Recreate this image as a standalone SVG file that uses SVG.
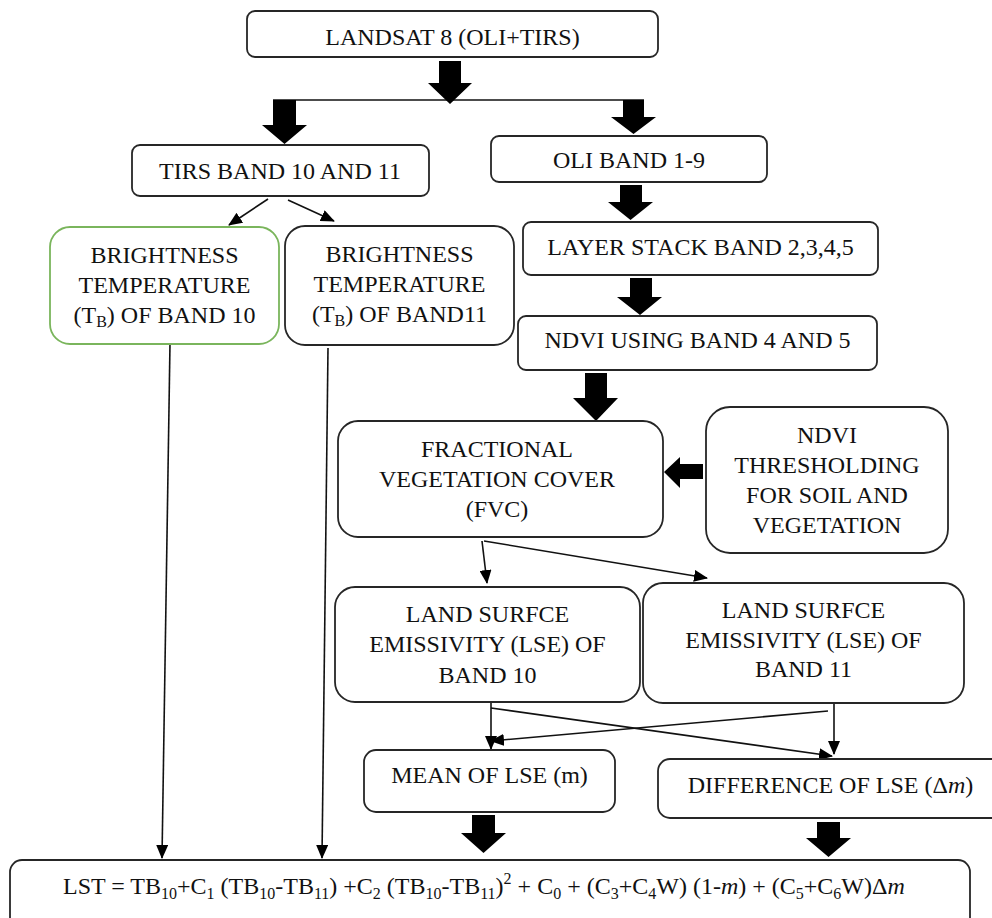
<svg xmlns="http://www.w3.org/2000/svg" width="992" height="918" viewBox="0 0 992 918">
<style>
.bx{fill:#fff;stroke:#262626;stroke-width:1.8}
.gb{fill:#fff;stroke:#7ab55c;stroke-width:1.8}
text{font-family:'Liberation Serif','DejaVu Serif',serif;fill:#111}
.t{font-size:24px;text-anchor:middle}
.f{font-size:24px}
.sb{font-size:16px}
.ln{stroke:#111;stroke-width:1.6;fill:none}
.blk{fill:#000}
</style>
<defs>
<marker id="ah" markerUnits="userSpaceOnUse" markerWidth="14" markerHeight="12" refX="13" refY="6" orient="auto">
<path d="M0,0 L14,6 L0,12 Z" fill="#000"/>
</marker>
</defs>
<rect width="992" height="918" fill="#fff"/>

<g id="connectors">
<line class="ln" x1="273" y1="100" x2="644" y2="100"/>
<polygon class="blk" points="439,61 461,61 461,83 472,83 450,104 428,83 439,83"/>
<polygon class="blk" points="273,100 296,100 296,125 307,125 284.5,144 262,125 273,125"/>
<polygon class="blk" points="623,100 644,100 644,117 656,117 633.5,134 611,117 623,117"/>
<polygon class="blk" points="620,185 642,185 642,202 653,202 630.5,220 608,202 620,202"/>
<polygon class="blk" points="630,278 652,278 652,297 662,297 640,315 617,297 630,297"/>
<polygon class="blk" points="585,373 607,373 607,398 618,398 596,421 573,398 585,398"/>
<polygon class="blk" points="703,464 703,479 680,479 680,488 664,472 680,457 680,464"/>
<polygon class="blk" points="472,815 495,815 495,833 506,833 483.5,853 461,833 472,833"/>
<polygon class="blk" points="817,822 840,822 840,838 851,838 828.5,857 806,838 817,838"/>
<line class="ln" x1="268" y1="199" x2="229" y2="225" marker-end="url(#ah)"/>
<line class="ln" x1="288" y1="200" x2="334" y2="221" marker-end="url(#ah)"/>
<line class="ln" x1="170" y1="343" x2="162" y2="858" marker-end="url(#ah)"/>
<line class="ln" x1="328" y1="348" x2="322" y2="858" marker-end="url(#ah)"/>
<line class="ln" x1="482" y1="541" x2="487" y2="583" marker-end="url(#ah)"/>
<line class="ln" x1="484" y1="541" x2="707" y2="578" marker-end="url(#ah)"/>
<line class="ln" x1="491" y1="703" x2="491" y2="749" marker-end="url(#ah)"/>
<line class="ln" x1="491" y1="708" x2="832" y2="756" marker-end="url(#ah)"/>
<line class="ln" x1="834" y1="703" x2="834" y2="754" marker-end="url(#ah)"/>
<line class="ln" x1="828" y1="711" x2="491" y2="741" marker-end="url(#ah)"/>
</g>

<g id="landsat">
<rect class="bx" x="247" y="11" width="411" height="46" rx="8"/>
<text class="t" x="452.5" y="45">LANDSAT 8 (OLI+TIRS)</text>
</g>
<g id="tirs">
<rect class="bx" x="132" y="145" width="297" height="51" rx="8"/>
<text class="t" x="280" y="179">TIRS BAND 10 AND 11</text>
</g>
<g id="oli">
<rect class="bx" x="491" y="136" width="276" height="46" rx="8"/>
<text class="t" x="629" y="168">OLI BAND 1-9</text>
</g>
<g id="layerstack">
<rect class="bx" x="523" y="222" width="355" height="53" rx="8"/>
<text class="t" x="700.5" y="255">LAYER STACK BAND 2,3,4,5</text>
</g>
<g id="ndvi">
<rect class="bx" x="518" y="316" width="359" height="54" rx="8"/>
<text class="t" x="697.5" y="348">NDVI USING BAND 4 AND 5</text>
</g>
<g id="bt10">
<rect class="gb" x="50" y="227" width="229" height="117" rx="20"/>
<text class="t" x="164.5" y="263">BRIGHTNESS</text>
<text class="t" x="164.5" y="293">TEMPERATURE</text>
<text class="t" x="164.5" y="323">(T<tspan class="sb" dy="4">B</tspan><tspan dy="-4">) OF BAND 10</tspan></text>
</g>
<g id="bt11">
<rect class="bx" x="285" y="226" width="229" height="119" rx="20"/>
<text class="t" x="399.5" y="262">BRIGHTNESS</text>
<text class="t" x="399.5" y="292">TEMPERATURE</text>
<text class="t" x="399.5" y="322">(T<tspan class="sb" dy="4">B</tspan><tspan dy="-4">) OF BAND11</tspan></text>
</g>
<g id="fvc">
<rect class="bx" x="338" y="421" width="325" height="116" rx="20"/>
<text class="t" x="497" y="457">FRACTIONAL</text>
<text class="t" x="497" y="487">VEGETATION COVER</text>
<text class="t" x="497" y="517">(FVC)</text>
</g>
<g id="threshold">
<rect class="bx" x="706" y="407" width="242" height="146" rx="24"/>
<text class="t" x="827" y="443">NDVI</text>
<text class="t" x="827" y="473">THRESHOLDING</text>
<text class="t" x="827" y="503">FOR SOIL AND</text>
<text class="t" x="827" y="533">VEGETATION</text>
</g>
<g id="lse10">
<rect class="bx" x="335" y="587" width="305" height="115" rx="20"/>
<text class="t" x="487.5" y="622">LAND SURFCE</text>
<text class="t" x="487.5" y="652">EMISSIVITY (LSE) OF</text>
<text class="t" x="487.5" y="683">BAND 10</text>
</g>
<g id="lse11">
<rect class="bx" x="643" y="583" width="321" height="120" rx="20"/>
<text class="t" x="803.5" y="618">LAND SURFCE</text>
<text class="t" x="803.5" y="648">EMISSIVITY (LSE) OF</text>
<text class="t" x="803.5" y="677">BAND 11</text>
</g>
<g id="mean">
<rect class="bx" x="364" y="750" width="251" height="62" rx="12"/>
<text class="t" x="489.5" y="783">MEAN OF LSE (m)</text>
</g>
<g id="difference">
<rect class="bx" x="658" y="759" width="350" height="59" rx="12"/>
<text class="t" x="830.5" y="793">DIFFERENCE OF LSE (Δ<tspan font-style="italic">m</tspan>)</text>
</g>
<g id="lst">
<rect class="bx" x="10" y="860" width="960" height="75" rx="12"/>
<text class="f" x="63" y="894">LST = TB<tspan class="sb" dy="5">10</tspan><tspan dy="-5">+C</tspan><tspan class="sb" dy="5">1</tspan><tspan dy="-5"> (TB</tspan><tspan class="sb" dy="5">10</tspan><tspan dy="-5">-TB</tspan><tspan class="sb" dy="5">11</tspan><tspan dy="-5">) +C</tspan><tspan class="sb" dy="5">2</tspan><tspan dy="-5"> (TB</tspan><tspan class="sb" dy="5">10</tspan><tspan dy="-5">-TB</tspan><tspan class="sb" dy="5">11</tspan><tspan dy="-5">)</tspan><tspan class="sb" dy="-10">2</tspan><tspan dy="10"> + C</tspan><tspan class="sb" dy="5">0</tspan><tspan dy="-5"> + (C</tspan><tspan class="sb" dy="5">3</tspan><tspan dy="-5">+C</tspan><tspan class="sb" dy="5">4</tspan><tspan dy="-5">W) (1-</tspan><tspan font-style="italic">m</tspan><tspan>) + (C</tspan><tspan class="sb" dy="5">5</tspan><tspan dy="-5">+C</tspan><tspan class="sb" dy="5">6</tspan><tspan dy="-5">W)Δ</tspan><tspan font-style="italic">m</tspan></text>
</g>
</svg>
